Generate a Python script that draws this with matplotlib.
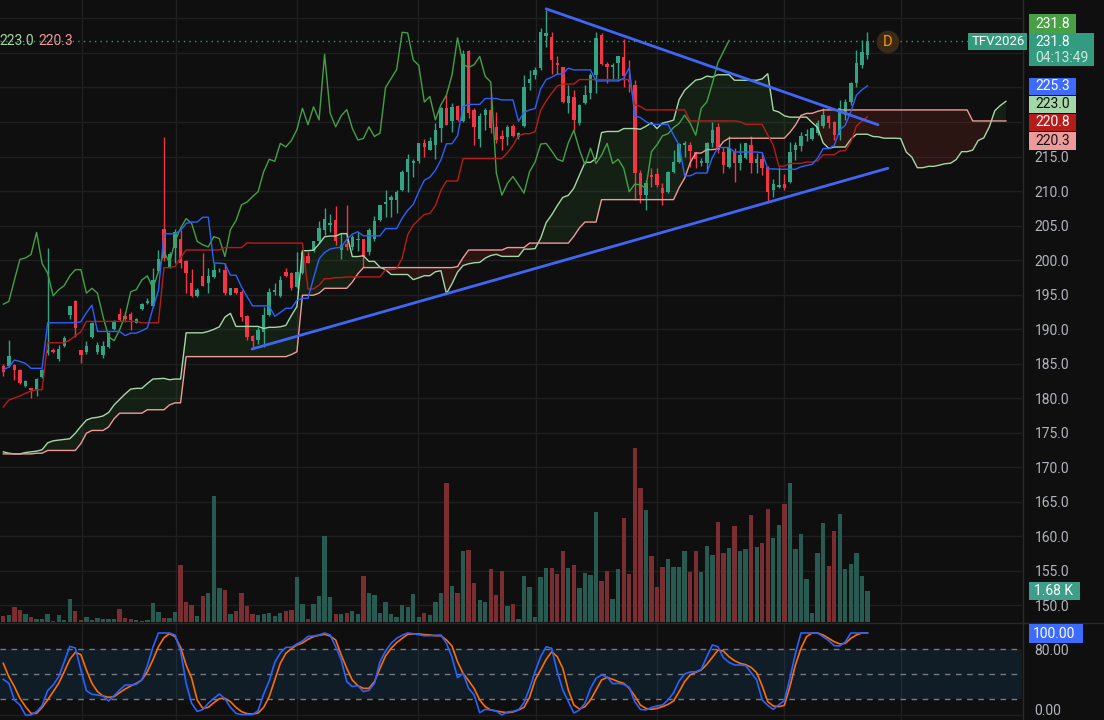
import numpy as np
import pandas as pd
import matplotlib
matplotlib.use("Agg")
import matplotlib.pyplot as plt
import matplotlib.transforms as mtransforms
from matplotlib.patches import Rectangle
from matplotlib.lines import Line2D

plt.rcParams['font.family'] = ['Roboto', 'DejaVu Sans']

# ---------------- data ----------------
opens = [184.7, 184.7, 184.8, 184.0, 181.8, 181.4, 181.1, 183.1, 186.5, 186.9,
         185.6, 187.6, 192.0, 194.0, 186.9, 186.6, 188.9, 186.6, 186.2, 187.4,
         190.0, 192.2, 191.9, 192.2, 190.9, 192.9, 193.8, 193.3, 198.4, 204.5,
         199.0, 201.7, 203.1, 199.9, 196.6, 194.8, 197.7, 196.6, 197.6, 198.5,
         198.6, 194.9, 195.9, 195.4, 191.9, 189.0, 188.4, 189.6, 192.0, 195.4,
         194.8, 198.2, 198.1, 196.1, 198.1, 200.6, 201.3, 202.7, 204.3, 205.1,
         205.8, 201.5, 202.3, 201.9, 202.9, 203.0, 201.2, 203.0, 205.8, 208.1,
         208.7, 208.7, 210.1, 212.8, 214.1, 214.3, 216.9, 216.0, 216.7, 219.1,
         222.0, 220.2, 222.3, 220.2, 230.3, 221.7, 217.6, 221.0, 221.7, 219.3,
         218.0, 217.8, 219.4, 217.8, 219.4, 225.6, 226.8, 227.8, 232.4, 232.3,
         228.6, 227.9, 222.8, 223.6, 219.9, 222.7, 224.2, 226.8, 232.6, 228.4,
         228.0, 228.5, 229.4, 226.3, 225.4, 212.6, 209.4, 212.3, 212.5, 210.5,
         209.8, 212.8, 214.2, 216.7, 216.7, 215.6, 214.1, 214.1, 216.9, 219.3,
         215.7, 213.5, 215.7, 214.0, 214.8, 216.7, 214.0, 214.6, 213.5, 210.1,
         210.6, 211.0, 211.3, 215.9, 216.5, 218.0, 217.5, 218.4, 219.4, 220.9,
         220.0, 218.1, 221.0, 222.9, 225.6, 228.3, 229.7]
highs = [184.9, 188.4, 184.9, 184.2, 182.6, 181.5, 182.9, 184.2, 201.8, 187.3,
         187.7, 189.0, 193.3, 194.2, 187.0, 188.3, 191.0, 188.1, 188.2, 189.5,
         191.3, 193.0, 192.4, 192.4, 191.6, 193.7, 194.5, 198.8, 201.4, 217.8,
         201.2, 204.5, 204.3, 200.0, 198.7, 195.9, 201.0, 198.9, 199.6, 198.9,
         199.6, 196.0, 196.0, 195.7, 192.0, 189.1, 190.3, 193.2, 195.9, 196.6,
         197.7, 198.9, 198.3, 201.2, 201.5, 201.2, 202.8, 205.6, 207.5, 206.6,
         207.8, 203.9, 208.0, 203.6, 204.0, 203.0, 204.6, 206.4, 208.0, 210.1,
         209.4, 210.1, 213.1, 215.4, 214.6, 217.0, 217.5, 217.8, 219.8, 222.2,
         223.9, 222.7, 222.5, 230.4, 230.4, 222.0, 221.3, 222.1, 224.2, 221.5,
         218.8, 219.6, 219.7, 218.5, 226.8, 227.5, 227.9, 233.6, 236.3, 233.0,
         229.5, 228.0, 225.4, 224.6, 222.6, 225.4, 227.1, 233.1, 232.9, 228.7,
         228.5, 229.6, 232.1, 229.0, 226.1, 213.0, 211.6, 213.3, 213.3, 211.1,
         212.9, 216.0, 216.9, 217.2, 217.1, 215.7, 214.8, 217.1, 220.0, 219.8,
         216.4, 218.0, 216.3, 217.0, 217.0, 217.9, 215.5, 215.5, 213.6, 211.8,
         213.5, 212.4, 217.1, 217.1, 218.6, 219.0, 219.3, 220.3, 222.1, 221.0,
         220.1, 223.2, 223.3, 225.8, 230.4, 231.9, 233.1]
lows = [183.2, 184.5, 182.6, 182.0, 181.6, 180.0, 180.3, 182.9, 186.3, 186.5,
        185.4, 187.4, 191.4, 188.8, 185.1, 186.4, 188.7, 186.4, 185.8, 187.2,
        189.9, 191.1, 191.0, 189.8, 190.8, 192.8, 193.6, 193.2, 198.2, 199.8,
        198.8, 199.5, 198.8, 195.2, 194.7, 194.6, 196.2, 195.2, 197.4, 198.3,
        194.9, 194.9, 195.1, 191.2, 188.4, 187.1, 187.9, 187.4, 191.9, 194.9,
        194.7, 197.6, 195.7, 195.9, 198.0, 199.5, 201.2, 202.5, 203.6, 204.0,
        202.2, 200.2, 201.5, 201.4, 201.3, 199.0, 200.7, 202.8, 205.6, 206.3,
        206.2, 206.8, 210.0, 209.8, 212.1, 214.1, 215.0, 215.9, 214.7, 217.1,
        219.5, 218.6, 220.1, 220.0, 220.6, 216.7, 216.4, 218.8, 218.4, 217.0,
        216.0, 216.7, 217.8, 217.6, 219.3, 224.6, 226.2, 227.5, 230.9, 227.0,
        227.0, 222.7, 221.3, 218.8, 219.6, 222.6, 223.4, 224.2, 228.3, 225.7,
        226.1, 226.0, 225.0, 224.4, 208.7, 208.2, 207.2, 210.6, 210.6, 208.0,
        209.7, 212.6, 214.1, 215.0, 213.5, 213.3, 213.6, 212.8, 216.4, 215.5,
        212.6, 213.3, 211.3, 213.0, 214.7, 212.6, 212.6, 212.3, 208.4, 209.2,
        210.5, 210.2, 211.1, 214.5, 215.8, 217.2, 217.4, 218.1, 219.2, 219.2,
        217.4, 217.4, 220.3, 222.5, 225.1, 227.8, 229.2]
closes = [183.7, 186.1, 184.1, 182.2, 182.4, 181.1, 182.7, 184.0, 186.9, 186.6,
          187.1, 188.7, 193.3, 190.1, 186.2, 187.5, 190.8, 187.7, 187.5, 189.4,
          191.2, 191.3, 191.4, 191.3, 191.5, 193.6, 194.0, 197.1, 200.1, 200.3,
          200.8, 204.0, 199.5, 198.1, 194.8, 195.7, 196.3, 197.7, 198.6, 198.6,
          195.2, 195.9, 195.2, 191.8, 188.9, 188.3, 189.9, 192.0, 195.4, 195.7,
          197.1, 197.7, 195.9, 198.3, 201.2, 199.6, 202.7, 204.6, 206.0, 205.3,
          202.7, 202.2, 201.9, 203.4, 203.1, 200.5, 204.4, 205.7, 208.0, 208.4,
          209.2, 209.9, 212.8, 214.6, 214.3, 216.9, 216.4, 217.3, 218.9, 222.0,
          219.6, 222.2, 220.3, 229.8, 221.3, 219.3, 220.9, 221.8, 219.1, 217.4,
          217.6, 219.3, 217.9, 218.4, 225.0, 226.3, 227.6, 233.0, 232.9, 229.0,
          228.2, 222.9, 223.7, 220.3, 222.5, 223.9, 226.8, 232.2, 228.4, 227.9,
          228.3, 229.5, 226.6, 225.8, 212.6, 209.4, 211.1, 212.1, 210.9, 209.7,
          212.8, 214.2, 216.8, 216.9, 215.8, 214.6, 214.3, 217.0, 218.8, 216.0,
          213.8, 216.2, 214.0, 215.2, 216.9, 214.0, 214.6, 213.3, 209.9, 211.0,
          210.9, 210.4, 215.7, 216.7, 218.0, 218.3, 219.2, 219.8, 221.0, 219.8,
          218.1, 222.0, 222.9, 225.6, 228.6, 230.2, 231.8]
# volume in thousands
volume_k = [0.34, 0.39, 0.82, 0.66, 0.45, 0.28, 0.18, 0.18, 0.45, 0.07,
            0.39, 0.12, 1.25, 0.61, 0.12, 0.28, 0.12, 0.23, 0.18, 0.18,
            0.18, 0.72, 0.23, 0.18, 0.12, 0.07, 0.12, 1.04, 0.55, 0.23,
            0.23, 0.55, 3.08, 1.09, 0.93, 0.34, 1.41, 1.58, 6.74, 1.84,
            1.74, 0.45, 0.61, 1.58, 0.88, 0.45, 0.39, 0.45, 0.50, 0.34,
            0.50, 0.61, 0.66, 2.40, 0.99, 0.18, 0.99, 1.42, 4.64, 1.36,
            0.45, 0.45, 0.50, 0.61, 0.45, 2.49, 1.58, 1.47, 0.50, 1.09,
            0.45, 0.29, 0.93, 0.82, 1.52, 0.29, 0.50, 0.39, 1.09, 1.58,
            7.49, 1.95, 1.58, 3.83, 3.89, 2.11, 1.20, 1.09, 2.87, 1.47,
            2.76, 0.88, 0.99, 0.18, 2.49, 1.90, 0.29, 2.44, 2.92, 2.92,
            2.60, 3.83, 2.92, 3.08, 1.85, 2.65, 2.54, 5.88, 2.22, 2.76,
            1.25, 2.87, 5.61, 2.60, 9.37, 7.17, 6.04, 3.57, 1.90, 2.97,
            3.40, 2.97, 2.97, 3.83, 2.71, 3.83, 2.71, 4.10, 3.62, 5.39,
            3.73, 3.99, 5.18, 3.83, 3.94, 5.77, 4.05, 4.26, 6.09, 4.53,
            5.23, 6.36, 7.49, 3.94, 4.75, 2.33, 0.50, 3.73, 5.29, 3.03,
            4.91, 5.82, 2.87, 3.14, 3.73, 2.49, 1.68]
stoch_k = [43.5, 38.6, 18.3, 12.2, 0.0, 0.0, 4.1, 11.4, 29.7, 36.6,
           46.7, 65.0, 83.7, 81.7, 54.9, 29.7, 25.2, 24.4, 23.2, 17.1,
           23.6, 30.5, 36.6, 36.6, 37.4, 42.7, 60.2, 82.5, 100.0, 100.0,
           100.0, 97.6, 78.0, 38.6, 14.2, 4.5, 6.5, 14.2, 20.3, 25.6,
           19.9, 9.3, 2.0, 0.5, 0.5, 0.5, 5.3, 25.6, 41.5, 64.2,
           75.6, 82.5, 82.5, 86.6, 90.2, 95.9, 96.3, 97.6, 100.0, 97.6,
           83.3, 67.1, 40.7, 34.6, 35.8, 28.5, 30.1, 38.6, 65.0, 78.0,
           87.4, 93.5, 97.2, 100.0, 99.2, 98.0, 96.7, 96.7, 97.2, 97.6,
           87.4, 70.3, 45.5, 50.8, 32.5, 24.4, 2.8, 6.9, 6.1, 4.9,
           0.0, 3.7, 4.5, 6.1, 15.0, 32.5, 52.8, 71.1, 83.3, 81.3,
           52.8, 30.5, 16.3, 2.4, 6.1, 14.2, 32.5, 44.7, 48.8, 46.3,
           38.2, 38.6, 37.4, 33.7, 16.3, 6.9, 6.1, 9.3, 11.0, 12.2,
           18.3, 27.2, 41.5, 50.0, 52.4, 52.8, 55.7, 71.1, 85.4, 83.3,
           69.9, 64.2, 61.0, 61.0, 60.2, 51.6, 42.7, 18.3, 11.8, 6.9,
           12.6, 17.5, 44.7, 75.2, 100.0, 100.0, 100.0, 100.0, 95.5, 90.7,
           84.6, 84.1, 89.0, 100.0, 100.0, 100.0, 100.0]
stoch_d = [63.0, 46.7, 34.6, 20.3, 10.2, 2.0, 2.0, 9.3, 18.3, 28.5,
           38.6, 52.8, 67.9, 76.4, 73.6, 54.9, 38.6, 28.5, 23.2, 21.5,
           22.4, 27.2, 31.7, 35.4, 38.6, 42.7, 52.8, 67.1, 83.3, 94.3,
           99.2, 95.5, 82.5, 61.0, 44.7, 18.3, 8.1, 9.3, 15.0, 19.9,
           20.3, 16.3, 9.3, 4.1, 1.6, 1.2, 2.4, 9.3, 22.4, 42.7,
           63.0, 75.2, 80.9, 85.4, 87.8, 92.3, 95.5, 97.2, 98.4, 96.3,
           91.5, 73.2, 56.9, 42.7, 35.8, 32.5, 32.5, 40.7, 56.9, 72.0,
           81.3, 88.2, 93.5, 98.4, 98.8, 98.8, 98.0, 97.6, 96.7, 96.7,
           91.5, 84.1, 65.0, 50.8, 41.9, 32.5, 18.3, 10.2, 6.1, 4.9,
           3.7, 2.8, 3.7, 6.1, 9.3, 21.5, 42.7, 54.9, 67.9, 77.2,
           71.1, 56.9, 30.5, 12.2, 7.3, 10.2, 18.3, 30.5, 42.7, 45.9,
           43.5, 40.7, 38.6, 32.5, 23.2, 12.2, 8.1, 6.9, 8.1, 10.2,
           13.0, 17.1, 28.5, 40.7, 48.8, 52.0, 54.9, 61.8, 70.3, 79.3,
           78.0, 71.1, 66.3, 63.0, 61.4, 58.1, 51.6, 35.4, 16.3, 11.0,
           10.2, 11.8, 34.6, 61.0, 81.3, 95.5, 100.0, 100.0, 97.6, 93.5,
           89.4, 86.6, 87.4, 93.5, 97.6, 100.0, 100.0]

# ichimoku values visible at the left edge (their history lies before the window)
tenkan_head = [184.1, 184.5, 185.5, 185.3, 185.0, 184.3, 184.3, 184.3]
kijun_head = [178.7, 179.7, 180.0, 180.3, 180.7, 181.0, 181.2, 181.2, 188.0, 188.0,
              188.0, 188.0, 188.4, 189.0, 189.6, 191.1, 191.1, 191.1, 191.1, 191.1,
              191.1, 191.1, 191.1, 191.1, 191.1]
span_a_head = [172.2, 172.0, 171.9, 171.9, 172.1, 172.2, 172.3, 172.5, 173.5, 173.8,
               173.9, 174.0, 174.1, 174.9, 175.9, 176.8, 177.1, 177.2, 177.4, 177.9,
               179.0, 179.8, 180.6, 181.3, 181.4]
span_b_head = [171.9, 171.9, 171.9, 171.9, 171.9, 171.9, 172.0, 172.0, 172.4, 172.4,
               172.4, 172.4, 172.4, 172.4, 173.4, 174.9, 175.3, 175.3, 175.3, 175.8,
               177.0, 177.8, 177.8, 177.8, 177.8, 177.8, 178.3, 178.3, 178.3, 178.3,
               179.0, 179.3, 179.3, 186.0, 186.0, 186.0, 186.0, 186.0, 186.0, 186.0,
               186.0, 186.0, 186.0, 186.0, 186.0, 186.0, 186.0, 186.0, 186.0, 186.0,
               186.0, 186.0, 186.3, 186.7, 194.9, 194.9, 194.9, 195.2, 195.9, 195.9,
               195.9, 195.9, 195.9, 196.8, 198.0, 198.9, 198.9, 198.9, 198.9, 198.9,
               198.9, 198.9, 198.9, 198.9, 198.9, 198.9]

month_lines = [14.2, 31.2, 53.0, 74.9, 96.2, 118.0, 140.9, 162.0]
trend_low_x, trend_low_y = [44.9, 159.7], [187.1, 213.3]
trend_high_x, trend_high_y = [98.0, 157.9], [236.4, 219.6]

# ---------------- styles ----------------
BG = '#0f0f0f'
GRID = '#1f1f1f'
UP = '#33a383'
DOWN = '#f23645'
VOL_UP = '#275a51'
VOL_DOWN = '#7a2e31'
TEXT = '#b2b5be'
W, H = 1104, 720

df = pd.DataFrame({'open': opens, 'high': highs, 'low': lows, 'close': closes})
n = len(df)
idx = np.arange(n)

tenkan = ((df.high.rolling(9).max() + df.low.rolling(9).min()) / 2).values
tenkan[:len(tenkan_head)] = tenkan_head
kijun = ((df.high.rolling(26).max() + df.low.rolling(26).min()) / 2).values
kijun[:len(kijun_head)] = kijun_head
span_b_calc = ((df.high.rolling(52).max() + df.low.rolling(52).min()) / 2).values
span_a = np.concatenate([span_a_head, (tenkan + kijun) / 2])
span_b = np.concatenate([span_b_head, span_b_calc[51:]])
span_x = np.arange(len(span_a))

fig = plt.figure(figsize=(W / 100, H / 100), dpi=100, facecolor=BG)
ax = fig.add_axes([0, 98 / H, 1022 / W, 622 / H])
ax_vol = ax.twinx()
ax.set_zorder(ax_vol.get_zorder() + 1)
ax.patch.set_visible(False)
ax_vol.set_facecolor(BG)
ax_st = fig.add_axes([0, 0, 1022 / W, 97 / H], sharex=ax)
ax_st.set_facecolor(BG)

ax.set_xlim(-0.6, 183.9)
ax.set_ylim(147.54, 237.68)
ax_vol.set_ylim(0, 33.4)
ax_st.set_ylim(-6.1, 112.2)

# grid
trans = mtransforms.blended_transform_factory(ax_vol.transAxes, ax.transData)
for p in np.arange(150, 240, 5):
    ax_vol.plot([0, 1], [p, p], transform=trans, color=GRID, lw=1, zorder=0)
for m in month_lines:
    ax_vol.axvline(m, color=GRID, lw=1, zorder=0)
    ax_st.axvline(m, color=GRID, lw=1, zorder=0)
ax_st.axhline(0, color=GRID, lw=1, zorder=0)

# volume
up = df.close.values >= df.open.values
ax_vol.bar(idx, volume_k, width=0.78, color=np.where(up, VOL_UP, VOL_DOWN), linewidth=0, zorder=1)

# cloud
ax.fill_between(span_x, span_a, span_b, where=span_a >= span_b, interpolate=True,
                color='#43a047', alpha=0.12, linewidth=0, zorder=1)
ax.fill_between(span_x, span_a, span_b, where=span_a < span_b, interpolate=True,
                color='#f44336', alpha=0.12, linewidth=0, zorder=1)

# candles
col = np.where(up, UP, DOWN)
body_lo = np.minimum(df.open, df.close)
body_h = np.maximum((df.close - df.open).abs(), 0.12)
ax.vlines(idx, df.low, df.high, colors=col, linewidth=1, zorder=3)
ax.bar(idx, body_h, bottom=body_lo, width=0.62, color=col, linewidth=0, zorder=4)

# ichimoku lines
ax.plot(span_x, span_a, color='#a5d6a7', lw=1, zorder=5)
ax.plot(span_x, span_b, color='#ef9a9a', lw=1, zorder=5)
ax.plot(idx[25:] - 25, df.close.values[25:], color='#43a047', lw=1, zorder=5)
ax.plot(idx, kijun, color='#b71c1c', lw=1, zorder=5)
ax.plot(idx, tenkan, color='#2962ff', lw=1, zorder=5)

# trend lines
ax.plot(trend_low_x, trend_low_y, color='#3f66f5', lw=2, solid_capstyle='round', zorder=6)
ax.plot(trend_high_x, trend_high_y, color='#3f66f5', lw=2, solid_capstyle='round', zorder=6)

# last price line
ax.axhline(closes[-1], xmin=0, xmax=969 / 1022, color='#2e9a82', lw=1,
           linestyle=(0, (1, 3)), zorder=6)

# stochastic
ax_st.axhspan(20, 80, color='#2196f3', alpha=0.1, linewidth=0, zorder=1)
for lv in (80, 50, 20):
    ax_st.axhline(lv, color='#787b86', lw=1, linestyle=(0, (4, 4)), zorder=2)
ax_st.plot(idx, stoch_k, color='#2962ff', lw=1.2, zorder=4)
ax_st.plot(idx, stoch_d, color='#ff6d00', lw=1.2, zorder=3)

# axes cosmetics
for a in (ax, ax_vol, ax_st):
    for s in a.spines.values():
        s.set_visible(False)
    a.tick_params(axis='x', which='both', bottom=False, labelbottom=False)
ax_vol.set_yticks([])
ax.yaxis.tick_right()
ax.set_yticks(np.arange(150, 216, 5))
ax.set_yticklabels([f'{v:.1f}' for v in np.arange(150, 216, 5)])
ax.tick_params(axis='y', length=0, pad=9, labelcolor=TEXT, labelsize=10)
ax_st.yaxis.tick_right()
ax_st.set_yticks([80])
ax_st.set_yticklabels(['80.00'])
ax_st.tick_params(axis='y', length=0, pad=9, labelcolor=TEXT, labelsize=10)

# frame lines
fig.add_artist(Line2D([1022.5 / W] * 2, [0, 1], color='#2a2a2a', lw=1))
fig.add_artist(Line2D([0, 1], [1 - 622.5 / H] * 2, color='#2a2a2a', lw=1))


def box(x0, y0, x1, y1, fc):
    fig.add_artist(Rectangle((x0 / W, 1 - y1 / H), (x1 - x0) / W, (y1 - y0) / H,
                             transform=fig.transFigure, fc=fc, ec='none', zorder=10))


def label(x, y, s, color, size=10):
    fig.text(x / W, 1 - y / H, s, color=color, fontsize=size, ha='left', va='center', zorder=11)


# bottom tick of the oscillator scale sits right at the image edge
label(1034, 711, '0.00', TEXT)

box(1029, 14, 1076, 33, '#4a9e45')
label(1035, 23.5, '231.8', 'white')
box(968, 33, 1027, 50, '#329b80')
label(972, 41.5, 'TFV2026', 'white', 9.5)
box(1029, 33, 1094, 66, '#329b80')
label(1035, 41.5, '231.8', 'white')
label(1035, 58, '04:13:49', '#cde9df')
box(1029, 78, 1076, 95, '#3d6bff')
label(1035, 86.5, '225.3', 'white')
box(1029, 96, 1076, 113, '#a5d6a7')
label(1035, 104.5, '223.0', '#131313')
box(1029, 114, 1076, 131, '#b71c1c')
label(1035, 122.5, '220.8', 'white')
box(1029, 132, 1076, 150, '#ef9a9a')
label(1035, 141, '220.3', '#131313')
box(1029, 582, 1080, 600, '#3d9f8a')
label(1034, 591, '1.68 K', 'white')
box(1029, 624, 1083, 643, '#3d6bff')
label(1033, 633.5, '100.00', 'white')

# legend remnants top-left
label(-1, 41, '223.0', '#a5d6a7', 10)
label(38, 41, '220.3', '#ef9a9a', 10)

# "D" marker
fig.text(888 / W, 1 - 42 / H, 'D', color='#ff9800', fontsize=10.5, ha='center', va='center',
         bbox=dict(boxstyle='circle,pad=0.3', fc='#3b2a17', ec='none'), zorder=11)

fig.savefig('out.png', dpi=100, facecolor=BG)
